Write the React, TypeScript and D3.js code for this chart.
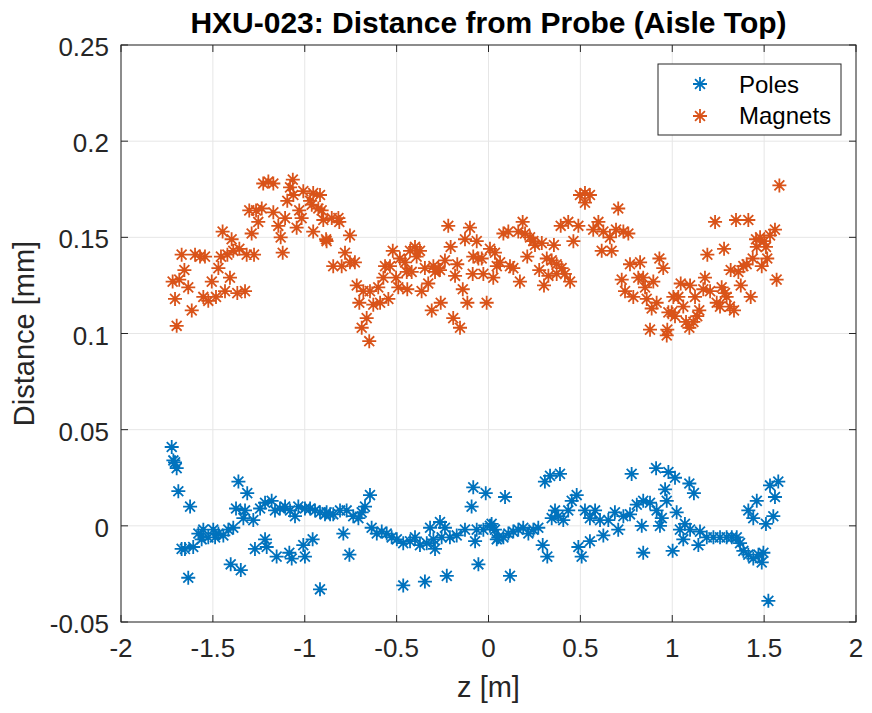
import React from "react";
import * as d3 from "d3";

const xTicks = [-2, -1.5, -1, -0.5, 0, 0.5, 1, 1.5, 2];
const yTicks = [-0.05, 0, 0.05, 0.1, 0.15, 0.2, 0.25];
const xTickLabels = ["-2", "-1.5", "-1", "-0.5", "0", "0.5", "1", "1.5", "2"];
const yTickLabels = ["-0.05", "0", "0.05", "0.1", "0.15", "0.2", "0.25"];
const seriesNames = ["Poles", "Magnets"];
const seriesColors = ["#0072BD", "#D95319"];

const magnetsZ = [
  -1.697, -1.615, -1.706, -1.719, -1.683, -1.634, -1.655, -1.670, -1.597, -1.570, -1.543, -1.506, -1.552, -1.525,
  -1.483, -1.434, -1.407, -1.367, -1.325, -1.470, -1.456, -1.421, -1.389, -1.356, -1.316, -1.276, -1.447, -1.398,
  -1.289, -1.302, -1.265, -1.234, -1.171, -1.253, -1.144, -1.131, -1.120, -1.107, -1.226, -1.198, -1.171, -1.065,
  -1.080, -1.062, -1.095, -1.008, -0.954, -0.917, -0.971, -0.962, -1.030, -1.017, -1.044, -0.926, -0.899, -0.954,
  -0.884, -0.908, -0.853, -0.817, -0.812, -0.881, -0.754, -0.781, -0.845, -0.799, -0.754, -0.727, -0.717, -0.681,
  -0.645, -0.600, -0.703, -0.627, -0.590, -0.545, -0.663, -0.690, -0.649, -0.572, -0.563, -0.536, -0.521, -0.503,
  -0.491, -0.442, -0.482, -0.454, -0.445, -0.418, -0.427, -0.400, -0.373, -0.391, -0.364, -0.346, -0.300, -0.273,
  -0.328, -0.309, -0.260, -0.291, -0.264, -0.237, -0.206, -0.219, -0.192, -0.155, -0.182, -0.170, -0.140, -0.128,
  -0.101, -0.064, -0.115, -0.086, -0.028, -0.083, -0.055, -0.037, -0.010, 0.008, 0.035, 0.026, 0.045, 0.063,
  0.081, 0.108, 0.186, 0.162, 0.199, 0.226, 0.244, 0.135, 0.117, 0.171, 0.211, 0.253, 0.290, 0.356,
  0.276, 0.317, 0.344, 0.371, 0.398, 0.302, 0.326, 0.371, 0.416, 0.444, 0.393, 0.434, 0.489, 0.462,
  0.498, 0.525, 0.552, 0.525, 0.706, 0.570, 0.598, 0.625, 0.661, 0.694, 0.734, 0.761, 0.616, 0.670,
  0.725, 0.770, 0.825, 0.743, 0.788, 0.815, 0.842, 0.852, 0.897, 0.861, 0.915, 0.888, 0.879, 0.930,
  0.951, 0.979, 0.970, 0.973, 1.006, 1.033, 0.997, 1.015, 1.060, 1.075, 1.093, 1.115, 1.046, 1.097,
  1.124, 1.147, 1.136, 1.178, 1.169, 1.206, 1.191, 1.233, 1.282, 1.242, 1.260, 1.269, 1.287, 1.296,
  1.314, 1.336, 1.318, 1.360, 1.373, 1.427, 1.347, 1.414, 1.387, 1.405, 1.438, 1.456, 1.478, 1.500,
  1.532, 1.559, 1.460, 1.510, 1.487, 1.517, 1.568, 1.583,
];
const magnetsD = [
  0.104, 0.112, 0.118, 0.127, 0.128, 0.124, 0.133, 0.141, 0.141, 0.140, 0.140, 0.127, 0.119, 0.117,
  0.119, 0.122, 0.129, 0.121, 0.122, 0.134, 0.140, 0.141, 0.143, 0.144, 0.141, 0.141, 0.153, 0.149,
  0.152, 0.164, 0.164, 0.165, 0.163, 0.158, 0.156, 0.150, 0.142, 0.160, 0.178, 0.179, 0.178, 0.180,
  0.176, 0.172, 0.169, 0.174, 0.173, 0.172, 0.169, 0.167, 0.164, 0.160, 0.155, 0.165, 0.159, 0.153,
  0.149, 0.164, 0.160, 0.160, 0.158, 0.148, 0.151, 0.142, 0.135, 0.135, 0.137, 0.137, 0.125, 0.122,
  0.122, 0.124, 0.116, 0.115, 0.116, 0.118, 0.108, 0.103, 0.096, 0.129, 0.135, 0.135, 0.143, 0.129,
  0.124, 0.123, 0.139, 0.137, 0.132, 0.132, 0.143, 0.145, 0.143, 0.140, 0.122, 0.134, 0.135, 0.134,
  0.126, 0.112, 0.116, 0.132, 0.133, 0.138, 0.145, 0.156, 0.108, 0.103, 0.130, 0.136, 0.123, 0.149,
  0.155, 0.148, 0.116, 0.131, 0.131, 0.140, 0.139, 0.139, 0.116, 0.144, 0.142, 0.129, 0.135, 0.137,
  0.152, 0.153, 0.158, 0.153, 0.152, 0.150, 0.148, 0.134, 0.135, 0.127, 0.140, 0.146, 0.147, 0.146,
  0.133, 0.139, 0.138, 0.136, 0.134, 0.125, 0.130, 0.131, 0.131, 0.127, 0.156, 0.158, 0.156, 0.148,
  0.172, 0.173, 0.172, 0.168, 0.165, 0.154, 0.158, 0.153, 0.150, 0.154, 0.153, 0.152, 0.143, 0.143,
  0.128, 0.136, 0.137, 0.122, 0.119, 0.129, 0.129, 0.124, 0.127, 0.118, 0.116, 0.113, 0.102, 0.139,
  0.134, 0.111, 0.099, 0.102, 0.119, 0.119, 0.111, 0.109, 0.114, 0.106, 0.103, 0.106, 0.126, 0.125,
  0.119, 0.112, 0.109, 0.129, 0.123, 0.122, 0.141, 0.158, 0.144, 0.116, 0.114, 0.124, 0.121, 0.119,
  0.114, 0.112, 0.133, 0.132, 0.125, 0.119, 0.159, 0.159, 0.135, 0.136, 0.139, 0.149, 0.150, 0.148,
  0.151, 0.154, 0.145, 0.145, 0.135, 0.139, 0.128, 0.177,
];

const polesZ = [
  -1.724, -1.715, -1.706, -1.697, -1.688, -1.624, -1.670, -1.652, -1.607, -1.634, -1.579, -1.552, -1.525, -1.498,
  -1.470, -1.443, -1.416, -1.389, -1.561, -1.488, -1.403, -1.348, -1.361, -1.313, -1.374, -1.325, -1.334, -1.280,
  -1.243, -1.216, -1.180, -1.162, -1.135, -1.107, -1.080, -1.053, -1.035, -0.999, -0.971, -0.944, -0.917, -0.890,
  -0.862, -1.216, -1.207, -1.271, -1.153, -1.084, -1.071, -1.008, -0.957, -0.999, -0.917, -0.881, -0.845, -0.808,
  -0.772, -0.736, -0.708, -0.690, -0.672, -0.645, -0.790, -0.757, -0.636, -0.608, -0.581, -0.554, -0.527, -0.499,
  -0.464, -0.427, -0.400, -0.373, -0.336, -0.300, -0.291, -0.318, -0.264, -0.237, -0.255, -0.210, -0.173, -0.128,
  -0.064, -0.028, 0.008, 0.045, -0.073, -0.464, -0.346, -0.227, -0.055, -0.092, -0.083, -0.015, 0.090, 0.017,
  0.035, 0.053, 0.081, 0.108, 0.135, 0.162, 0.189, 0.217, 0.244, 0.271, 0.117, 0.295, 0.320, 0.307,
  0.335, 0.389, 0.344, 0.362, 0.380, 0.407, 0.434, 0.453, 0.480, 0.489, 0.507, 0.525, 0.552, 0.580,
  0.607, 0.625, 0.552, 0.652, 0.688, 0.706, 0.734, 0.770, 0.807, 0.842, 0.879, 0.915, 0.943, 0.779,
  0.912, 0.979, 0.834, 0.933, 0.842, 0.961, 0.970, 1.015, 1.093, 1.118, 1.024, 1.042, 1.069, 1.060,
  1.097, 1.002, 1.142, 1.151, 1.188, 1.224, 1.260, 1.296, 1.324, 1.351, 1.369, 1.387, 1.414, 1.441,
  1.469, 1.487, 1.496, 1.414, 1.460, 1.441, 1.510, 1.550, 1.532, 1.577, 1.559, 1.523,
];
const polesD = [
  0.041, 0.034, 0.033, 0.030, 0.018, 0.010, -0.012, -0.012, -0.011, -0.027, -0.004, -0.002, -0.006, -0.002,
  -0.004, -0.005, -0.002, -0.001, -0.007, -0.006, -0.020, -0.023, 0.023, 0.017, 0.009, 0.008, 0.004, 0.003,
  0.009, 0.012, 0.013, 0.008, 0.009, 0.010, 0.008, 0.005, 0.010, 0.009, 0.009, 0.008, 0.007, 0.006,
  0.006, -0.007, -0.011, -0.012, -0.016, -0.014, -0.017, -0.010, -0.007, -0.016, -0.033, 0.007, 0.006, 0.008,
  0.008, 0.005, 0.004, 0.007, 0.010, 0.016, -0.004, -0.015, -0.001, -0.004, -0.003, -0.004, -0.006, -0.007,
  -0.009, -0.008, -0.006, -0.010, -0.009, -0.007, -0.012, -0.001, 0.002, -0.001, -0.006, -0.006, -0.005, -0.002,
  -0.002, -0.002, 0.000, -0.007, -0.008, -0.031, -0.029, -0.026, -0.020, 0.010, 0.020, 0.017, 0.015, 0.001,
  -0.002, -0.006, -0.006, -0.004, -0.003, -0.002, -0.001, -0.004, -0.002, -0.001, -0.026, -0.010, -0.016, 0.023,
  0.026, 0.027, 0.004, 0.008, 0.005, 0.003, 0.008, 0.013, 0.016, -0.011, -0.016, 0.008, 0.004, 0.008,
  0.003, -0.005, -0.008, 0.003, 0.007, -0.002, 0.005, 0.006, 0.011, 0.013, 0.012, 0.008, 0.004, 0.027,
  0.030, 0.028, 0.000, 0.000, -0.014, 0.019, 0.013, 0.025, 0.022, 0.017, 0.007, -0.002, 0.001, -0.007,
  -0.002, -0.013, -0.010, -0.003, -0.006, -0.006, -0.006, -0.006, -0.006, -0.006, -0.009, -0.013, -0.015, -0.017,
  -0.015, -0.019, -0.014, 0.008, 0.013, 0.004, 0.001, 0.005, 0.021, 0.023, 0.015, -0.039,
];

const W = 872;
const H = 713;
const L = 121, R = 856, T = 45, B = 622;
const FONT = "'Liberation Sans', Arial, Helvetica, sans-serif";

function starPath(cx: number, cy: number, r: number) {
  const d = r * 0.7071;
  return `M${cx - r},${cy}L${cx + r},${cy}M${cx},${cy - r}L${cx},${cy + r}` +
    `M${cx - d},${cy - d}L${cx + d},${cy + d}M${cx - d},${cy + d}L${cx + d},${cy - d}`;
}

export default function App() {
  const x = d3.scaleLinear().domain([-2, 2]).range([L, R]);
  const y = d3.scaleLinear().domain([-0.05, 0.25]).range([B, T]);
  const series = [
    { z: polesZ, d: polesD },
    { z: magnetsZ, d: magnetsD },
  ];
  const axisColor = "#262626";
  const tickLen = 7;
  const mr = 7;
  const sw = 1.8;
  return (
    <svg width={W} height={H} style={{ position: "absolute", left: 0, top: 0, background: "#fff" }}>
      <rect x={0} y={0} width={W} height={H} fill="#fff" />
      {xTicks.map((t, i) => (
        <line key={"gx" + i} x1={x(t)} x2={x(t)} y1={T} y2={B} stroke="#e6e6e6" strokeWidth={1} />
      ))}
      {yTicks.map((t, i) => (
        <line key={"gy" + i} x1={L} x2={R} y1={y(t)} y2={y(t)} stroke="#e6e6e6" strokeWidth={1} />
      ))}
      {series.map((s, si) => (
        <path
          key={"s" + si}
          d={s.z.map((z, i) => starPath(x(z), y(s.d[i]), mr)).join("")}
          stroke={seriesColors[si]}
          strokeWidth={sw}
          fill="none"
        />
      ))}
      <rect x={L} y={T} width={R - L} height={B - T} fill="none" stroke={axisColor} strokeWidth={1} />
      {xTicks.map((t, i) => (
        <g key={"tx" + i}>
          <line x1={x(t)} x2={x(t)} y1={B} y2={B - tickLen} stroke={axisColor} />
          <line x1={x(t)} x2={x(t)} y1={T} y2={T + tickLen} stroke={axisColor} />
          <text x={x(t)} y={657} textAnchor="middle" fontFamily={FONT} fontSize={26} fill={axisColor}>
            {xTickLabels[i]}
          </text>
        </g>
      ))}
      {yTicks.map((t, i) => (
        <g key={"ty" + i}>
          <line x1={L} x2={L + tickLen} y1={y(t)} y2={y(t)} stroke={axisColor} />
          <line x1={R} x2={R - tickLen} y1={y(t)} y2={y(t)} stroke={axisColor} />
          <text x={109} y={y(t) + 11} textAnchor="end" fontFamily={FONT} fontSize={26} fill={axisColor}>
            {yTickLabels[i]}
          </text>
        </g>
      ))}
      <text x={(L + R) / 2} y={33} textAnchor="middle" fontFamily={FONT} fontSize={30} fontWeight="bold" fill="#000">
        HXU-023: Distance from Probe (Aisle Top)
      </text>
      <text x={(L + R) / 2} y={697} textAnchor="middle" fontFamily={FONT} fontSize={29} fill={axisColor}>
        z [m]
      </text>
      <text
        transform={`translate(34,${(T + B) / 2}) rotate(-90)`}
        textAnchor="middle"
        fontFamily={FONT}
        fontSize={29}
        fill={axisColor}
      >
        Distance [mm]
      </text>
      <rect x={658} y={64} width={183} height={71} fill="#fff" stroke={axisColor} strokeWidth={1} />
      {seriesNames.map((n, i) => (
        <g key={"lg" + i}>
          <path d={starPath(700, 84 + i * 32, mr)} stroke={seriesColors[i]} strokeWidth={sw} fill="none" />
          <text x={739} y={93 + i * 31} fontFamily={FONT} fontSize={24} fill="#000">
            {n}
          </text>
        </g>
      ))}
    </svg>
  );
}
